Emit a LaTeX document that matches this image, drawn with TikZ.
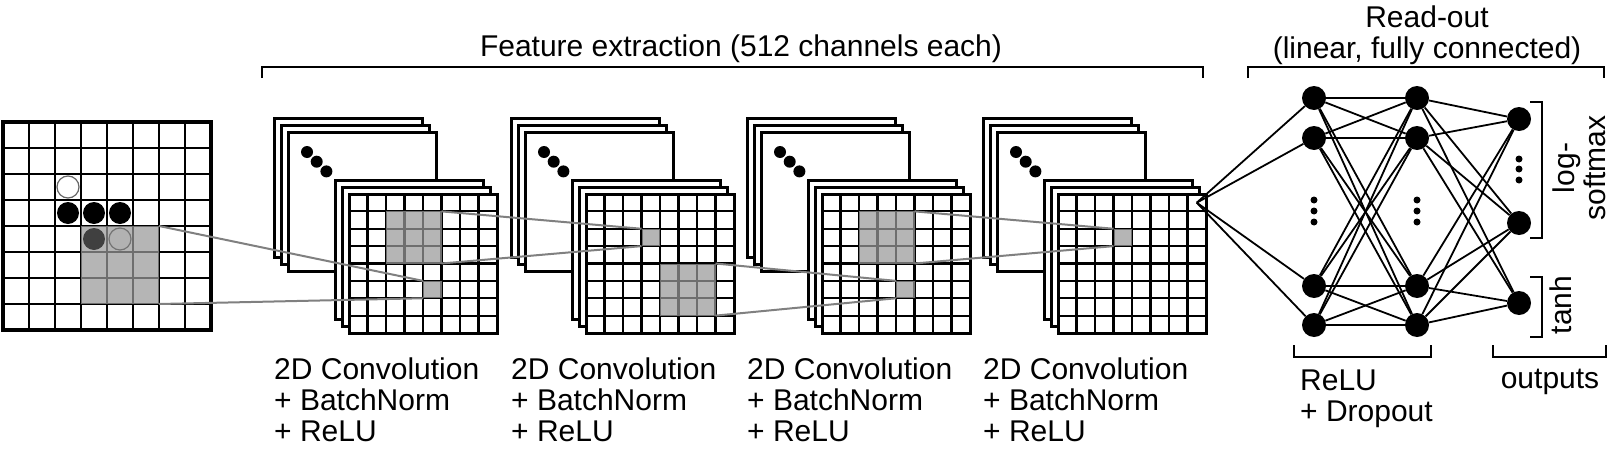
\documentclass[tikz,border=0pt]{standalone}
\usepackage{fontspec}
\setmainfont{Liberation Sans}
\usetikzlibrary{calc}
\tikzset{
  sheet/.style={draw=black,fill=white,line width=3pt},
  gridline/.style={line width=2.2pt},
  patch/.style={fill=black!40,fill opacity=0.72},
  link/.style={draw=black!50,line width=2pt},
  unit/.style={circle,fill=black,inner sep=0pt,minimum size=24pt},
  stone/.style={circle,inner sep=0pt,minimum size=22pt},
  edge/.style={line width=1.8pt},
  brace/.style={line width=2pt},
  lbl/.style={font=\fontsize{30}{31}\selectfont,inner sep=0pt,align=left}
}
\newcommand{\featmap}[2]{%
  \foreach \k in {0,1,2}
    \draw[sheet] (#2+7*\k,118+7*\k) rectangle ++(148,139);
  \foreach \k in {0,1,2}
    \fill (#2+33+9.7*\k,152+9.7*\k) circle (6pt);
  \foreach \k in {0,1}
    \draw[sheet] (#2+61+7*\k,180+7*\k) rectangle ++(148,139);
  \foreach \c in {0,...,8}
    \foreach \r in {0,...,8}
      \coordinate (#1-\c-\r) at (#2+75+18.5*\c,194+17.375*\r);
  \draw[sheet] (#1-0-0) rectangle (#1-8-8);
  \foreach \i in {1,...,7} {
    \draw[gridline] (#1-\i-0) -- (#1-\i-8);
    \draw[gridline] (#1-0-\i) -- (#1-8-\i);
  }
}

\begin{document}
\begin{tikzpicture}[x=1pt,y=-1pt]
\useasboundingbox (0,0) rectangle (1609,450);

\foreach \c in {0,...,8}
  \foreach \r in {0,...,8}
    \coordinate (b-\c-\r) at (3+26*\c,122+26*\r);
\foreach \i in {1,...,7} {
  \draw[gridline,line width=2.6pt] (b-\i-0) -- (b-\i-8);
  \draw[gridline,line width=2.6pt] (b-0-\i) -- (b-8-\i);
}
\draw[line width=3.5pt] (b-0-0) rectangle (b-8-8);
\fill[patch] (b-3-4) rectangle (b-6-7);
\node[stone,draw=black!60,fill=white,line width=1.2pt] (s1) at ($(b-2-2)!0.5!(b-3-3)$) {};
\foreach \c in {2,3,4}
  \node[stone,fill=black] (s-\c) at ($(b-\c-3)!0.5!(b-\c-4)+(13,0)$) {};
\node[stone,fill=black!75] (s2) at ($(b-3-4)!0.5!(b-4-5)$) {};
\node[stone,fill=black!30,draw=black!55,line width=1.2pt] (s3) at ($(b-4-4)!0.5!(b-5-5)$) {};

\featmap{g1}{274}
\featmap{g2}{511}
\featmap{g3}{747}
\featmap{g4}{983}

\fill[patch] (g1-2-1) rectangle (g1-5-4);
\fill[patch] (g1-4-5) rectangle (g1-5-6);
\fill[patch] (g2-3-2) rectangle (g2-4-3);
\fill[patch] (g2-4-4) rectangle (g2-7-7);
\fill[patch] (g3-2-1) rectangle (g3-5-4);
\fill[patch] (g3-4-5) rectangle (g3-5-6);
\fill[patch] (g4-3-2) rectangle (g4-4-3);

\draw[link] (b-6-4) -- (g1-4-5);
\draw[link] (b-6-7) -- (g1-4-6);
\draw[link] (g1-5-1) -- (g2-3-2);
\draw[link] (g1-5-4) -- (g2-3-3);
\draw[link] (g2-7-4) -- (g3-4-5);
\draw[link] (g2-7-7) -- (g3-4-6);
\draw[link] (g3-5-1) -- (g4-3-2);
\draw[link] (g3-5-4) -- (g4-3-3);

\foreach \y [count=\i] in {98,138,286,325} {
  \node[unit] (h1-\i) at (1314,\y) {};
  \node[unit] (h2-\i) at (1417,\y) {};
}
\foreach \y [count=\i] in {119,223,303}
  \node[unit] (o-\i) at (1519,\y) {};
\coordinate (v) at ($(g4-7-0)!0.5!(g4-8-1)$);
\foreach \i in {1,...,4} {
  \draw[edge] (v) -- (h1-\i);
  \foreach \j in {1,...,4}
    \draw[edge] (h1-\i) -- (h2-\j);
  \foreach \j in {1,2,3}
    \draw[edge] (h2-\i) -- (o-\j);
}
\foreach \x in {1314,1417}
  \foreach \y in {200,211,222}
    \fill (\x,\y) circle (3.5pt);
\foreach \y in {159,169,180}
  \fill (1519,\y) circle (3.5pt);

\draw[brace] (262,78) |- (1203,67) -- (1203,78);
\draw[brace] (1248,78) |- (1604,67) -- (1604,78);
\draw[brace] (1294,345) |- (1431,357) -- (1431,345);
\draw[brace] (1493,345) |- (1606,357) -- (1606,345);
\draw[brace] (1530,102) -| (1542,238) -- (1530,238);
\draw[brace] (1530,277) -| (1542,337) -- (1530,337);

\node[lbl,anchor=base] (feat) at (741,56) {Feature extraction (512 channels each)};
\node[lbl,anchor=north,align=center] (readout) at (1427,6) {Read-out\\(linear, fully connected)};
\foreach \x [count=\i] in {274,511,747,983}
  \node[lbl,anchor=north west] (conv-\i) at (\x,358) {2D Convolution\\+ BatchNorm\\+ ReLU};
\node[lbl,anchor=north west] (relu) at (1300,370) {ReLU\\+ Dropout};
\node[lbl,anchor=base] (outs) at (1550,388) {outputs};
\node[lbl,rotate=90,align=center] (logsm) at (1579,168) {log-\\softmax};
\node[lbl,rotate=90] (tanh) at (1561,305) {tanh};
\end{tikzpicture}
\end{document}
